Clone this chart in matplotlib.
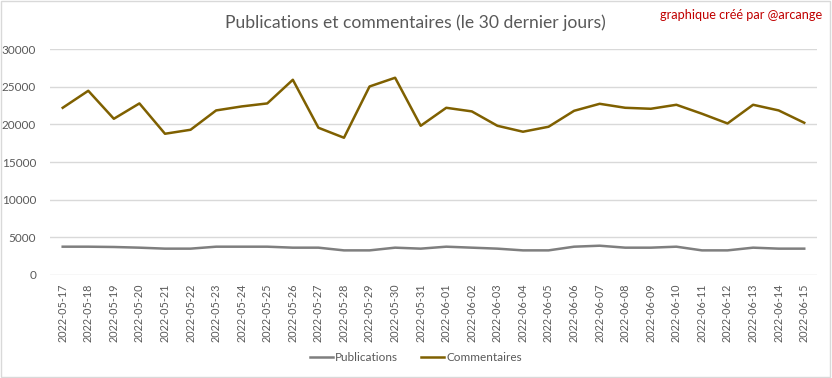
import matplotlib
matplotlib.use("Agg")
import matplotlib.pyplot as plt
from matplotlib.patches import Rectangle

plt.rcParams["font.family"] = ["Lato", "DejaVu Sans"]

DATES = [
    "2022-05-17", "2022-05-18", "2022-05-19", "2022-05-20", "2022-05-21",
    "2022-05-22", "2022-05-23", "2022-05-24", "2022-05-25", "2022-05-26",
    "2022-05-27", "2022-05-28", "2022-05-29", "2022-05-30", "2022-05-31",
    "2022-06-01", "2022-06-02", "2022-06-03", "2022-06-04", "2022-06-05",
    "2022-06-06", "2022-06-07", "2022-06-08", "2022-06-09", "2022-06-10",
    "2022-06-11", "2022-06-12", "2022-06-13", "2022-06-14", "2022-06-15",
]
PUBLICATIONS = [
    3760, 3760, 3720, 3630, 3500, 3500, 3760, 3760, 3760, 3630,
    3630, 3270, 3270, 3630, 3500, 3760, 3630, 3500, 3270, 3270,
    3760, 3890, 3630, 3630, 3760, 3270, 3270, 3630, 3500, 3500,
]
COMMENTAIRES = [
    22210, 24470, 20750, 22790, 18760, 19290, 21860, 22390, 22790, 25930,
    19560, 18230, 25040, 26200, 19820, 22210, 21730, 19820, 19030, 19690,
    21810, 22740, 22210, 22080, 22610, 21420, 20130, 22610, 21860, 20220,
]

TEXT_GREY = "#595959"
GRID_GREY = "#D9D9D9"

fig = plt.figure(figsize=(8.32, 3.78), dpi=100)
ax = fig.add_axes([0.060, 0.2725, 0.922, 0.5975])

x = range(len(DATES))
ax.plot(x, PUBLICATIONS, color="#7F7F7F", lw=1.8, label="Publications", solid_joinstyle="round")
ax.plot(x, COMMENTAIRES, color="#7F6000", lw=1.8, label="Commentaires", solid_joinstyle="round")

ax.set_xlim(-0.5, len(DATES) - 0.5)
ax.set_ylim(0, 30000)
ax.set_yticks(range(0, 30001, 5000))
ax.set_xticks(list(x))
ax.set_xticklabels(DATES, rotation=90, fontsize=7.8, color=TEXT_GREY)
ax.tick_params(axis="y", labelsize=8.5, labelcolor=TEXT_GREY, length=0, pad=10)
ax.tick_params(axis="x", length=0, pad=6)
ax.grid(axis="y", color=GRID_GREY, lw=1)
ax.set_axisbelow(True)
for s in ax.spines.values():
    s.set_visible(False)

fig.text(0.499, 0.94, "Publications et commentaires (le 30 dernier jours)",
         ha="center", va="center", fontsize=12.6, color=TEXT_GREY)
fig.text(0.988, 0.96, "graphique créé par @arcange",
         ha="right", va="center", fontsize=9.2, color="#C00000")

fig.legend(loc="center", bbox_to_anchor=(0.5, 0.055), ncol=2, frameon=False,
           fontsize=8.5, labelcolor=TEXT_GREY, handlelength=1.9,
           handletextpad=0.2, columnspacing=2.0)

fig.patches.append(Rectangle((0.001, 0.002), 0.997, 0.996, transform=fig.transFigure,
                             fill=False, edgecolor=GRID_GREY, lw=1))

fig.savefig("out.png", dpi=100)
